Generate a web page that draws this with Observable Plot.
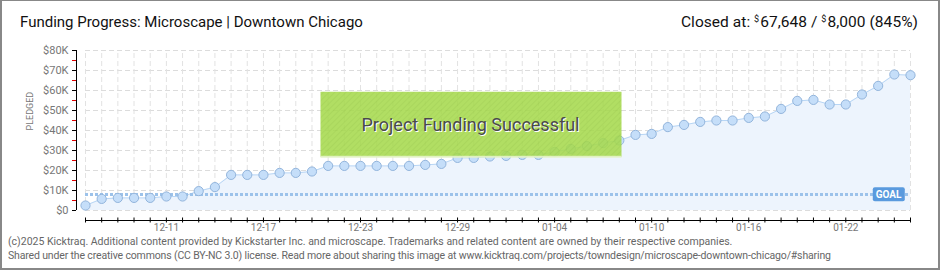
<!DOCTYPE html>
<html>
<head>
<meta charset="utf-8">
<script src="https://cdn.jsdelivr.net/npm/d3@7"></script>
<script src="https://cdn.jsdelivr.net/npm/@observablehq/plot@0.6"></script>
<style>
  html, body { margin: 0; padding: 0; background: #fff; }
  #wrap { position: relative; width: 940px; height: 270px; overflow: hidden; font-family: Roboto, "DejaVu Sans", sans-serif; }
  #title { position: absolute; left: 20px; top: 13px; font-size: 15px; color: #111; white-space: nowrap; }
  #closed { position: absolute; right: 22px; top: 13px; font-size: 15.5px; color: #111; white-space: nowrap; letter-spacing: 0.05px; }
  #closed .cur { font-size: 9px; vertical-align: 5px; margin-right: 1px; }
  #chart { position: absolute; left: 0; top: 36px; }
  #footer { position: absolute; left: 8px; top: 235px; font-size: 10.5px; line-height: 14px; color: #666; white-space: nowrap; }
  #footer .l2 { letter-spacing: -0.15px; }
  #border { position: absolute; left: 0; top: 0; right: 0; bottom: 0; border: 2px solid #888; border-top-width: 1px; pointer-events: none; }
</style>
</head>
<body>
<div id="wrap">
  <div id="title">Funding Progress: Microscape | Downtown Chicago</div>
  <div id="closed">Closed at: <span class="cur">$</span>67,648 / <span class="cur">$</span>8,000 (845%)</div>
  <div id="chart"></div>
  <div id="footer">(c)2025 Kicktraq. Additional content provided by Kickstarter Inc. and microscape. Trademarks and related content are owned by their respective companies.<br><span class="l2">Shared under the creative commons (CC BY-NC 3.0) license. Read more about sharing this image at www.kicktraq.com/projects/towndesign/microscape-downtown-chicago/#sharing</span></div>
  <div id="border"></div>
</div>
<script>
// ---- data ----
const dates = [
  "2024-12-06","2024-12-07","2024-12-08","2024-12-09","2024-12-10","2024-12-11","2024-12-12",
  "2024-12-13","2024-12-14","2024-12-15","2024-12-16","2024-12-17","2024-12-18","2024-12-19",
  "2024-12-20","2024-12-21","2024-12-22","2024-12-23","2024-12-24","2024-12-25","2024-12-26",
  "2024-12-27","2024-12-28","2024-12-29","2024-12-30","2024-12-31","2025-01-01","2025-01-02",
  "2025-01-03","2025-01-04","2025-01-05","2025-01-06","2025-01-07","2025-01-08","2025-01-09",
  "2025-01-10","2025-01-11","2025-01-12","2025-01-13","2025-01-14","2025-01-15","2025-01-16",
  "2025-01-17","2025-01-18","2025-01-19","2025-01-20","2025-01-21","2025-01-22","2025-01-23",
  "2025-01-24","2025-01-25","2025-01-26"
];
const pledged = [
  2500, 5800, 6300, 6300, 6300, 7000, 7000,
  9700, 11700, 17800, 17800, 17800, 18800, 18800,
  19500, 22300, 22300, 22300, 22300, 22300, 22300,
  22800, 23300, 26300, 26300, 27000, 27300, 27800,
  27800, 29300, 30800, 32200, 33700, 35000, 37800,
  38300, 41700, 42800, 44300, 45000, 45000, 46300,
  47000, 50800, 54800, 55300, 53000, 53000, 58000,
  62300, 68000, 67648
];
const goal = 8000;
const xLabelDates = ["2024-12-11","2024-12-17","2024-12-23","2024-12-29","2025-01-04","2025-01-10","2025-01-16","2025-01-22"];
const yTicks = [0, 10000, 20000, 30000, 40000, 50000, 60000, 70000, 80000];
const yMinorTicks = [5000, 15000, 25000, 35000, 45000, 55000, 65000, 75000];
const successText = "Project Funding Successful";
const goalText = "GOAL";
const yAxisTitle = "PLEDGED";

// ---- build ----
const days = dates.map(d => new Date(d + "T00:00:00Z"));
const labelDays = xLabelDates.map(d => new Date(d + "T00:00:00Z"));
const data = days.map((d, i) => ({date: d, value: pledged[i]}));
const first = days[0], last = days[days.length - 1];
const fmtDay = d3.utcFormat("%m-%d");
const fmtY = v => v === 0 ? "$0" : `$${v / 1000}K`;
const dash = "5,3";

const chart = Plot.plot({
  width: 940,
  height: 196,
  marginLeft: 76,
  marginRight: 30,
  marginTop: 14,
  marginBottom: 12,
  style: {fontFamily: "Roboto, 'DejaVu Sans', sans-serif", background: "transparent", overflow: "visible"},
  x: {type: "utc", domain: [first, last], insetLeft: 9},
  y: {domain: [0, 80000], range: [174, 14]},
  marks: [
    Plot.gridY({ticks: yTicks, stroke: "#dcdcdc", strokeOpacity: 1, strokeDasharray: dash, insetLeft: 9}),
    Plot.ruleX(days, {x: d => d, y1: 0, y2: 80000, stroke: "#e2e2e2", strokeDasharray: dash}),
    Plot.areaY(data, {x: "date", y: "value", fill: "#edf4fd"}),
    Plot.line(data, {x: "date", y: "value", stroke: "#b8d6f5", strokeWidth: 1}),
    Plot.ruleY([goal], {stroke: "#9cc2ea", strokeWidth: 3, strokeDasharray: "3,2", insetLeft: 9}),
    Plot.dot(data, {x: "date", y: "value", r: 4.6, fill: "#c5def9", stroke: "#93b5dc", strokeWidth: 1}),
    // y axis
    Plot.ruleX([first], {y1: 0, y2: 80000, dx: -9, stroke: "#000"}),
    Plot.axisY({ticks: yTicks, tickSize: 4, tickPadding: 4, tickFormat: fmtY, fill: "#777", stroke: "#000", fontSize: 11, label: null}),
    Plot.axisY({ticks: yMinorTicks, tickSize: 4, tickFormat: () => "", stroke: "#e00000", label: null}),
    Plot.text([yAxisTitle], {frameAnchor: "left", dx: -46, dy: -5, rotate: -90, text: d => d, fill: "#777", fontSize: 9, letterSpacing: 1}),
    // x axis
    Plot.ruleY([0], {dy: 10, insetLeft: 9, stroke: "#000"}),
    Plot.axisX({ticks: days, tickSize: 5, dy: -2.5, tickFormat: () => "", stroke: "#000", label: null}),
    Plot.axisX({ticks: labelDays, tickSize: 0, tickPadding: 3, tickFormat: fmtDay, fill: "#777", fontSize: 10, label: null}),
    // goal label
    Plot.text([goalText], {x: last, y: goal, dx: -22, text: d => d, fill: "#fff", fontSize: 10, fontWeight: "bold"}),
    // success banner
    Plot.text([successText], {frameAnchor: "middle", dx: -23, dy: -10, text: d => d, fill: "#4a4a4a", fontSize: 18})
  ]
});

document.getElementById("chart").appendChild(chart);

const NS = "http://www.w3.org/2000/svg";
// hatch pattern
const defs = document.createElementNS(NS, "defs");
defs.innerHTML = `<pattern id="hatch" width="4" height="4" patternUnits="userSpaceOnUse" patternTransform="rotate(45)">
  <rect width="4" height="4" fill="#a6d94e"></rect><line x1="0" y1="0" x2="0" y2="4" stroke="#9bcf45" stroke-width="1.5"></line></pattern>`;
chart.insertBefore(defs, chart.firstChild);

function mkRect(attrs) {
  const r = document.createElementNS(NS, "rect");
  for (const k in attrs) r.setAttribute(k, attrs[k]);
  return r;
}
function findText(str) {
  return Array.from(chart.querySelectorAll("text")).filter(t => t.textContent === str);
}
findText(goalText).forEach(t => {
  const b = t.getBBox();
  const cx = b.x + b.width / 2, cy = b.y + b.height / 2;
  t.parentNode.insertBefore(mkRect({x: cx - 16, y: cy - 7, width: 32, height: 14, rx: 2, fill: "#5a9ade", transform: t.getAttribute("transform") || ""}), t);
});
findText(successText).forEach(t => {
  const b = t.getBBox();
  const cx = b.x + b.width / 2, cy = b.y + b.height / 2;
  const tr = t.getAttribute("transform") || "";
  const p = t.parentNode;
  p.insertBefore(mkRect({x: cx - 150, y: cy - 33, width: 301, height: 65, fill: "url(#hatch)", opacity: 0.88, transform: tr}), t);
  p.insertBefore(mkRect({x: cx - 150, y: cy + 31, width: 301, height: 2, fill: "#e4f3c8", opacity: 0.9, transform: tr}), t);
  const sh = t.cloneNode(true);
  sh.setAttribute("fill", "#ffffff");
  sh.setAttribute("transform", tr + " translate(1,1)");
  p.insertBefore(sh, t);
});
</script>
</body>
</html>
